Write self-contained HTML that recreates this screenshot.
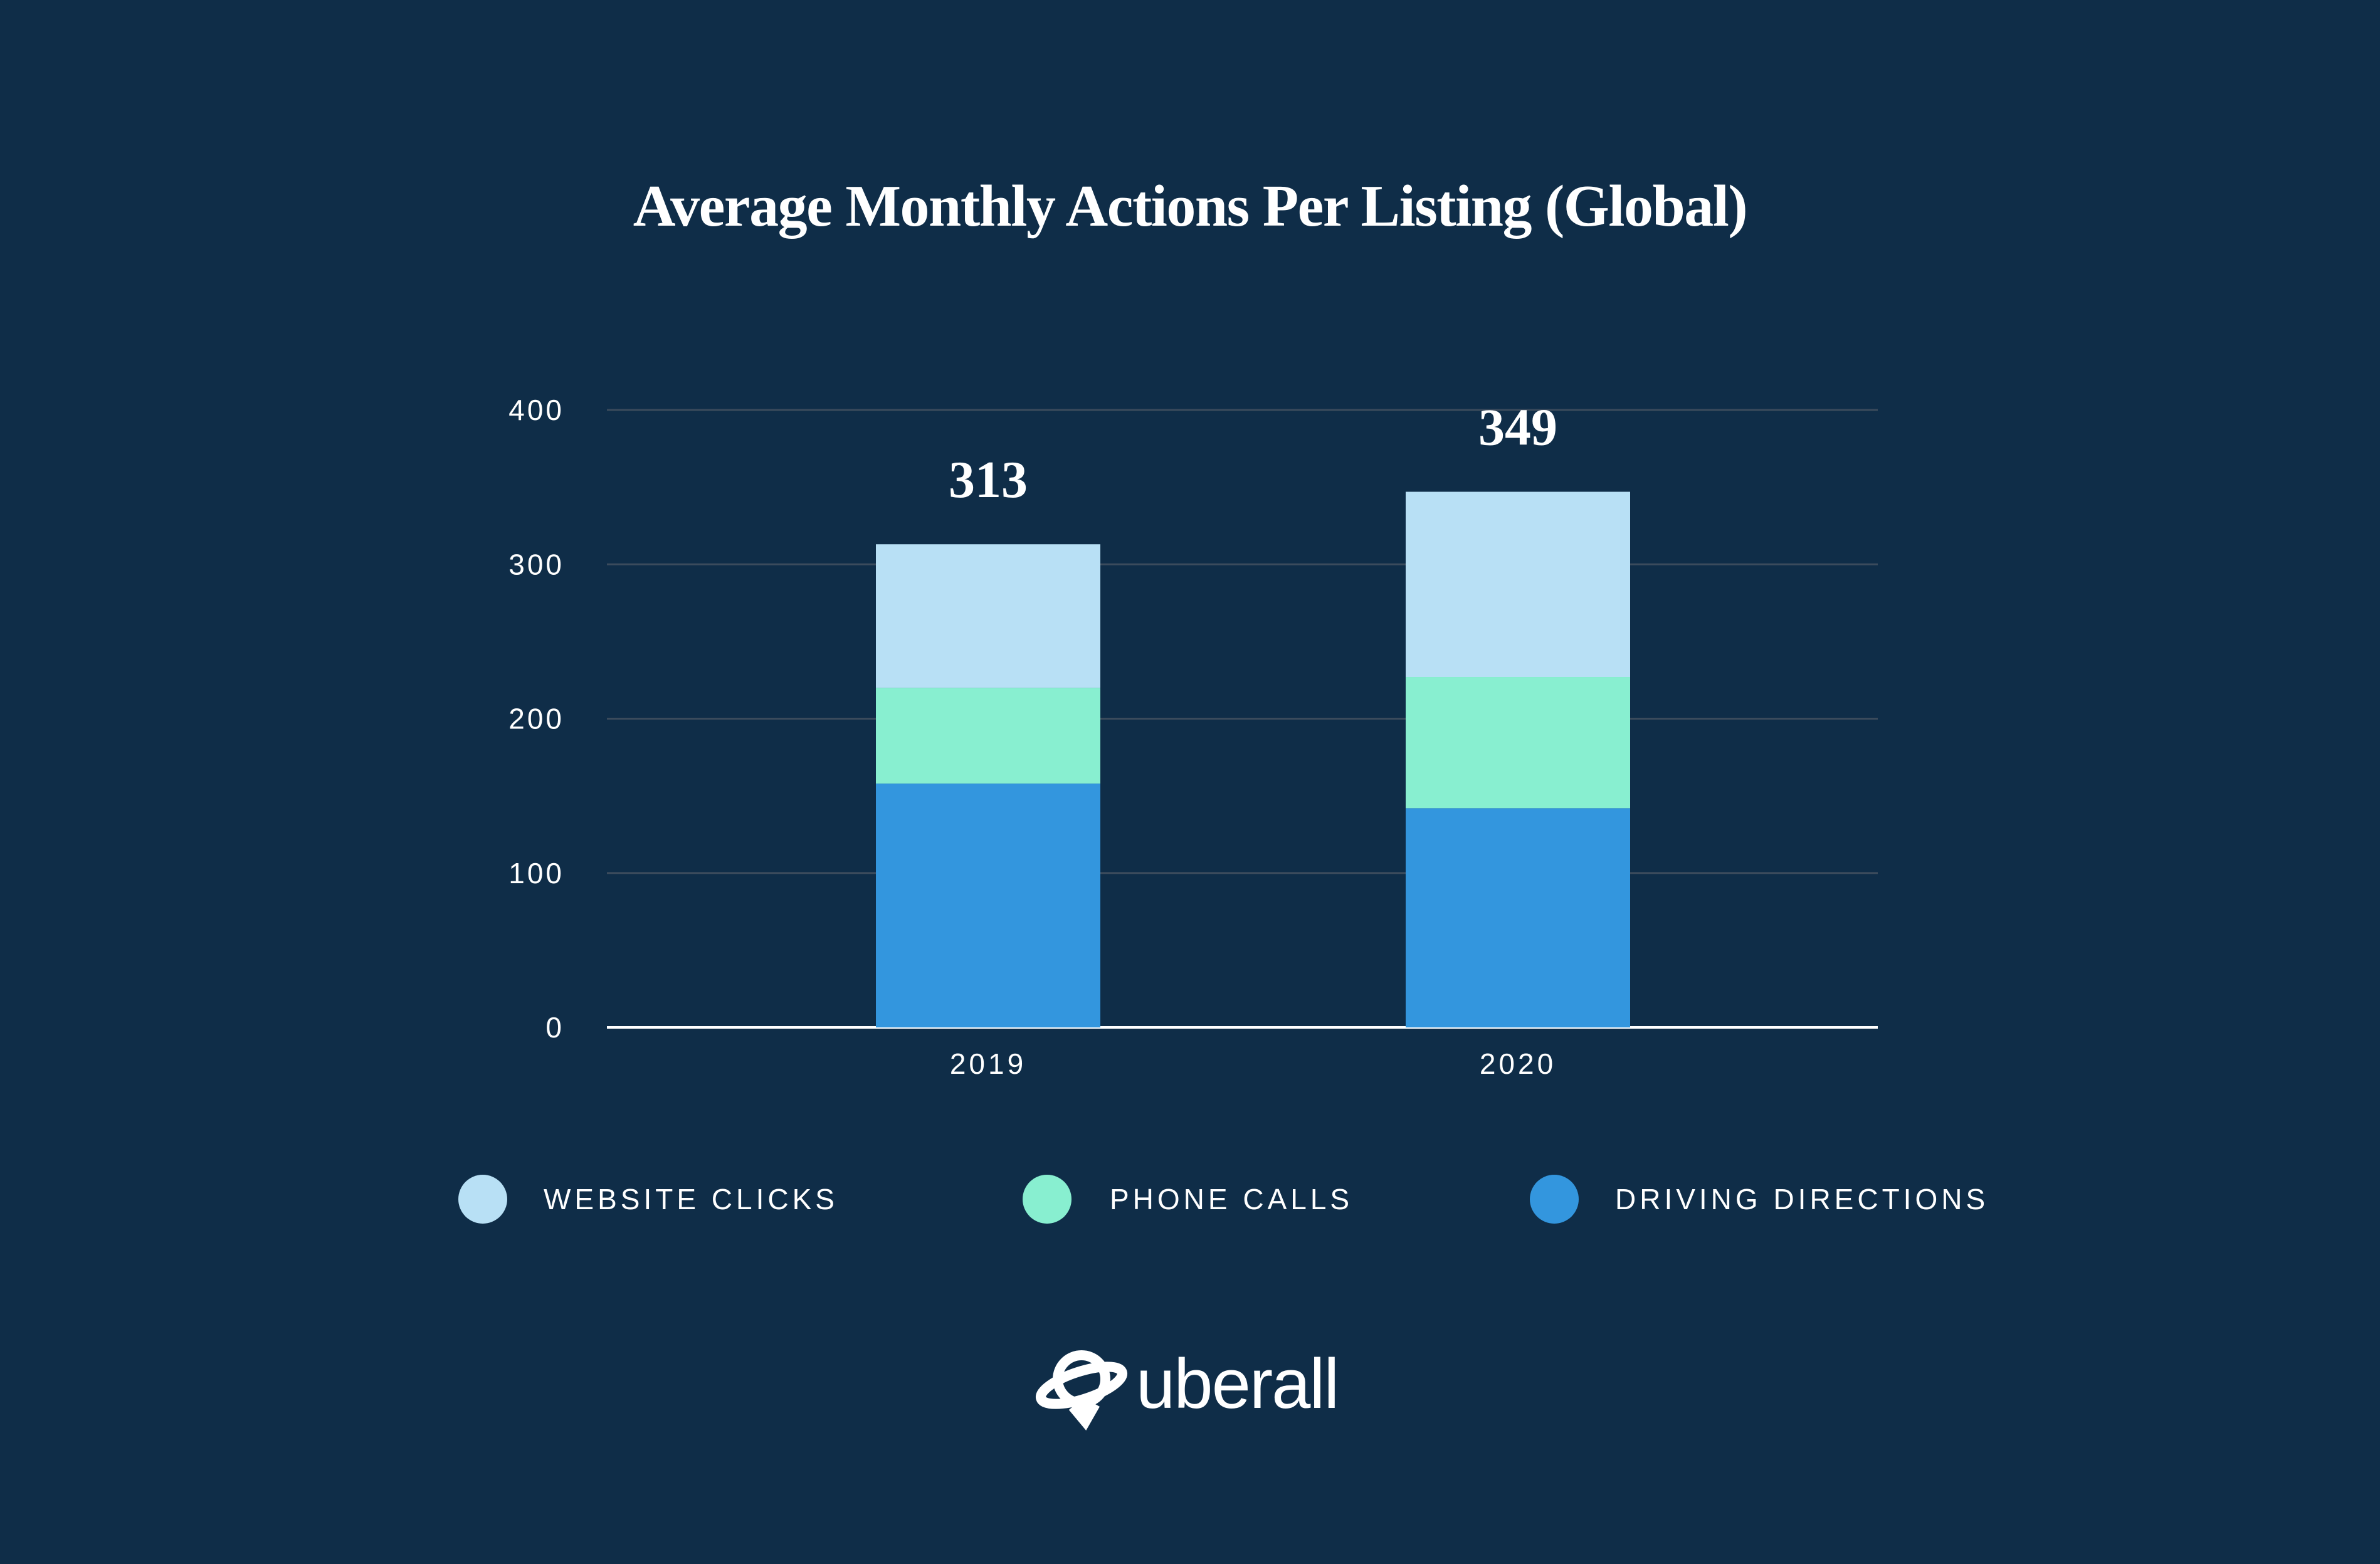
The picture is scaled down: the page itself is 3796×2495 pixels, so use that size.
<!DOCTYPE html>
<html><head><meta charset="utf-8"><style>
html,body{margin:0;padding:0;background:#0f2d48;}
svg{display:block;}
</style></head><body>
<svg id="chart" width="3796" height="2495" viewBox="0 0 3796 2495" xmlns="http://www.w3.org/2000/svg">
<rect width="3796" height="2495" fill="#0f2d48"/>
<text x="1898" y="360" text-anchor="middle" font-family="Liberation Serif, serif" font-weight="bold" font-size="94" fill="#ffffff" letter-spacing="-1.5">Average Monthly Actions Per Listing (Global)</text>
<g id="grid"></g>
<g id="bars"></g>
<g id="labels"></g>
<g>
<g><circle cx="770" cy="1913" r="39" fill="#b8e0f5"/><text x="867" y="1929" font-family="Liberation Sans, sans-serif" font-size="46" fill="#ffffff" letter-spacing="6">WEBSITE CLICKS</text></g>
<g><circle cx="1670" cy="1913" r="39" fill="#88efd0"/><text x="1770" y="1929" font-family="Liberation Sans, sans-serif" font-size="46" fill="#ffffff" letter-spacing="6">PHONE CALLS</text></g>
<g><circle cx="2479" cy="1913" r="39" fill="#3396de"/><text x="2576" y="1929" font-family="Liberation Sans, sans-serif" font-size="46" fill="#ffffff" letter-spacing="6">DRIVING DIRECTIONS</text></g>
</g>
<g>
<g transform="translate(1725,2210)" fill="none" stroke="#ffffff" stroke-width="16">
<circle cx="0" cy="-10" r="38"/>
<ellipse cx="0" cy="0" rx="68" ry="22" transform="rotate(-18)"/>
<path d="M-14 34 L6 58 L22 30" fill="#ffffff"/>
</g>
<text x="1812" y="2246" font-family="Liberation Sans, sans-serif" font-size="112" fill="#ffffff" letter-spacing="-2">uberall</text>
</g>
</svg>
<script>
const categories = ["2019", "2020"];
const drivingDirections = [158, 142];
const phoneCalls = [62, 85];
const websiteClicks = [93, 120];
const totals = [313, 349];
const yTicks = [0, 100, 200, 300, 400];

const NS = "http://www.w3.org/2000/svg";
const plotLeft = 968, plotRight = 2995, y0 = 1639, yTop = 654, yMax = 400;
const barW = 358, centers = [1576, 2421];
function yScale(v){ return y0 - (v / yMax) * (y0 - yTop); }
function mk(tag, attrs, parent){ const e = document.createElementNS(NS, tag); for (const k in attrs) e.setAttribute(k, attrs[k]); parent.appendChild(e); return e; }
const grid = document.getElementById('grid'), bars = document.getElementById('bars'), labels = document.getElementById('labels');
yTicks.forEach(t => {
  const y = yScale(t);
  const l = mk('line', {x1: plotLeft, x2: plotRight, y1: y, y2: y, stroke: t === 0 ? '#ffffff' : '#3b4b5c', 'stroke-width': t === 0 ? 4 : 3}, grid);
  
  
  const tx = mk('text', {x: 900, y: y + 16, 'text-anchor': 'end', 'font-family': 'Liberation Sans, sans-serif', 'font-size': 46, fill: '#ffffff', 'letter-spacing': 4}, labels);
  tx.textContent = t;
  
  
});
const series = [[drivingDirections, '#3396de', 'driving'], [phoneCalls, '#88efd0', 'phone'], [websiteClicks, '#b8e0f5', 'website']];
categories.forEach((c, i) => {
  let base = 0;
  series.forEach(([arr, col, nm]) => {
    const v = arr[i];
    const r = mk('rect', {x: centers[i] - barW / 2, y: yScale(base + v), width: barW, height: yScale(base) - yScale(base + v), fill: col}, bars);
    
    
    base += v;
  });
  const vt = mk('text', {x: centers[i], y: yScale(base) - 75, 'text-anchor': 'middle', 'font-family': 'Liberation Serif, serif', 'font-weight': 'bold', 'font-size': 84, fill: '#ffffff'}, labels);
  vt.textContent = totals[i];
  
  
  const ct = mk('text', {x: centers[i], y: 1713, 'text-anchor': 'middle', 'font-family': 'Liberation Sans, sans-serif', 'font-size': 46, fill: '#ffffff', 'letter-spacing': 5}, labels);
  ct.textContent = c;
  
  
});
</script>
</body></html>
